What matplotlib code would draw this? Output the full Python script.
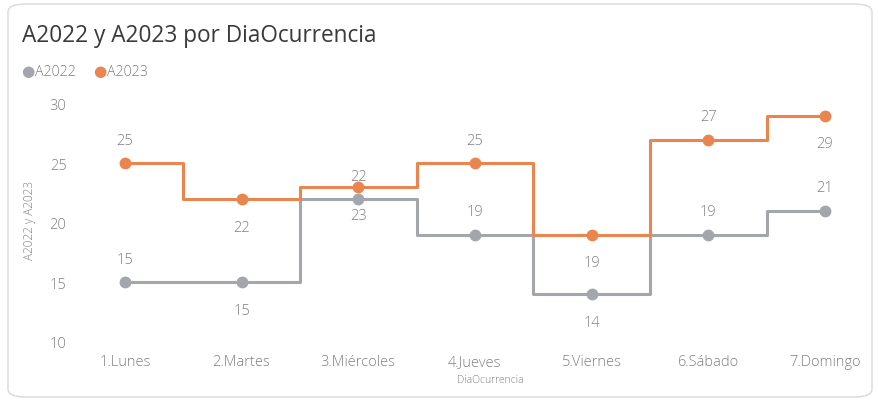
import matplotlib
matplotlib.use("Agg")
import matplotlib.pyplot as plt
from matplotlib.patches import FancyBboxPatch

DAYS = ["1.Lunes", "2.Martes", "3.Miércoles", "4.Jueves", "5.Viernes", "6.Sábado", "7.Domingo"]
A2022 = [15, 15, 22, 19, 14, 19, 21]
A2023 = [25, 22, 23, 25, 19, 27, 29]
YTICKS = [10, 15, 20, 25, 30]

# label side per point (1 = above, -1 = below), as placed in the reference
SIDE_2022 = [1, -1, 1, 1, -1, 1, 1]
SIDE_2023 = [1, -1, -1, 1, -1, 1, -1]

GRAY = "#A3A6AC"
ORANGE = "#EB8550"
TXT = "#808080"

plt.rcParams["font.family"] = ["Open Sans", "DejaVu Sans"]

W, H = 879, 402
fig = plt.figure(figsize=(W / 100, H / 100), dpi=100)
card = FancyBboxPatch((8 / W, 4 / H), 864 / W, 393 / H,
                      boxstyle="round,pad=0,rounding_size=0.02",
                      transform=fig.transFigure, fc="white", ec="#D9D9D9", lw=1.0, zorder=-10)
fig.patches.append(card)

ax = fig.add_axes([72 / W, 1 - 343 / H, 803 / W, 243 / H])
ax.patch.set_alpha(0)
x = list(range(len(DAYS)))
for vals, col, sides, z in [(A2022, GRAY, SIDE_2022, 2), (A2023, ORANGE, SIDE_2023, 3)]:
    ax.plot(x, vals, drawstyle="steps-mid", color=col, lw=2.2, zorder=z)
    ax.plot(x, vals, "o", color=col, ms=7.5, zorder=z + 0.5)
    for xi, v, s in zip(x, vals, sides):
        ax.annotate(str(v), (xi, v), xytext=(0, 23 if s > 0 else -28), textcoords="offset pixels",
                    ha="center", va="center", fontsize=10.5, color=TXT, fontweight="light")

ax.set_xlim(-0.454, 6.43)
ax.set_ylim(10, 30.4)
ax.set_yticks(YTICKS)
ax.set_xticks(x)
ax.set_xticklabels(DAYS, fontweight="light")
ax.tick_params(length=0, colors=TXT, labelsize=10.5)
ax.tick_params(axis="x", pad=9)
ax.tick_params(axis="y", pad=4)
for lab in ax.get_yticklabels():
    lab.set_fontweight("light")
for sp in ax.spines.values():
    sp.set_visible(False)

fig.text(30 / W, 1 - 220 / H, "A2022 y A2023", fontsize=8.5, color=TXT, rotation=90,
         ha="center", va="center", fontweight="light")
fig.text(490 / W, 1 - 381 / H, "DiaOcurrencia", fontsize=7.5, color=TXT, ha="center", va="center",
         fontweight="light")

fig.text(22 / W, 1 - 36 / H, "A2022 y A2023 por DiaOcurrencia", fontsize=16.3, color="#3A3A3A",
         ha="left", va="center")
# legend
fig.text(28 / W, 1 - 72 / H, "●", fontsize=11, color=GRAY, ha="center", va="center")
fig.text(35 / W, 1 - 72 / H, "A2022", fontsize=10.3, color=TXT, ha="left", va="center", fontweight="light")
fig.text(100 / W, 1 - 72 / H, "●", fontsize=11, color=ORANGE, ha="center", va="center")
fig.text(107 / W, 1 - 72 / H, "A2023", fontsize=10.3, color=TXT, ha="left", va="center", fontweight="light")

fig.savefig("out.png", dpi=100)
